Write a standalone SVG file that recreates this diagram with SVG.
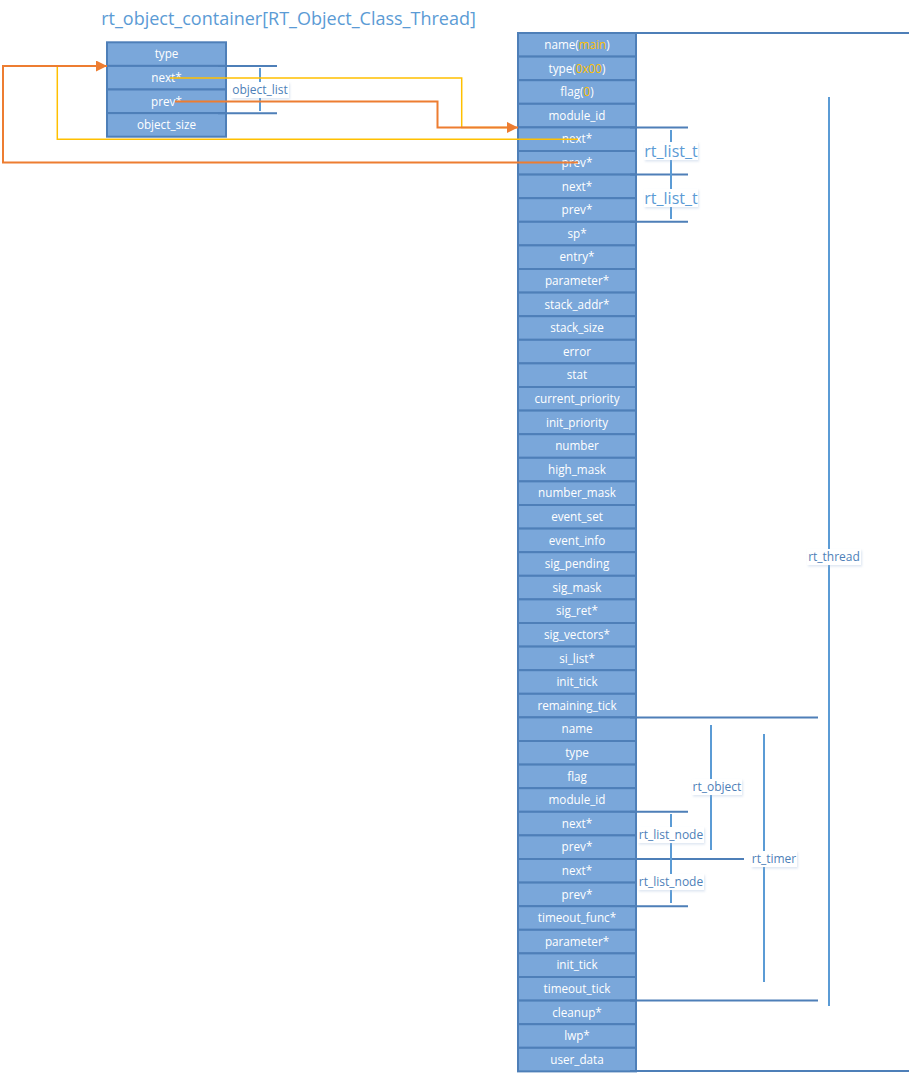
<svg xmlns="http://www.w3.org/2000/svg" width="917" height="1082" viewBox="0 0 917 1082">
<style>
.cell{fill:#7AA7DA;stroke:#4E7FB8;stroke-width:2}
.ct{font-family:"Open Sans","Liberation Sans",sans-serif;font-size:11.7px;fill:#FFFFFF;text-anchor:middle}
.hl{font-family:"Open Sans","Liberation Sans",sans-serif;fill:#FFC000}
.br{stroke:#4E7FB8;stroke-width:2;fill:none}
.vb{stroke:#5B9BD5;stroke-width:2;fill:none}
.lb{font-family:"Open Sans","Liberation Sans",sans-serif;font-size:12px;fill:#4E7FB8;text-anchor:middle}
.lbb{font-family:"Open Sans","Liberation Sans",sans-serif;font-size:16px;fill:#5B9BD5;text-anchor:middle}
.bg{fill:#FFFFFF;filter:url(#sh)}
.or{stroke:#ED7D31;stroke-width:2;fill:none}
.ye{stroke:#FFC000;stroke-width:1.5;fill:none}
</style>
<defs>
<marker id="ah" viewBox="0 0 11 11" refX="11" refY="5.5" markerWidth="11" markerHeight="11" markerUnits="userSpaceOnUse" orient="auto">
<path d="M0,0 L11,5.5 L0,11 Z" fill="#ED7D31"/>
</marker>
<filter id="sh" x="-10%" y="-20%" width="130%" height="160%">
<feDropShadow dx="1" dy="1.5" stdDeviation="1" flood-color="#9DB7D6" flood-opacity="0.35"/>
</filter>
</defs>
<rect width="917" height="1082" fill="#FFFFFF"/>

<text x="288.5" y="25" font-family="'Open Sans','Liberation Sans',sans-serif" font-size="18px" fill="#5B9BD5" text-anchor="middle">rt_object_container[RT_Object_Class_Thread]</text>

<g id="container">
<rect class="cell" x="107" y="42.3" width="119" height="23.6"/>
<rect class="cell" x="107" y="65.9" width="119" height="23.6"/>
<rect class="cell" x="107" y="89.5" width="119" height="23.6"/>
<rect class="cell" x="107" y="113.1" width="119" height="23.6"/>
<text class="ct" x="166.5" y="58.3">type</text>
<text class="ct" x="166.5" y="81.9">next*</text>
<text class="ct" x="166.5" y="105.5">prev*</text>
<text class="ct" x="166.5" y="129.1">object_size</text>
</g>

<g id="thread">
<rect class="cell" x="518" y="33" width="118" height="23.6"/>
<rect class="cell" x="518" y="56.6" width="118" height="23.6"/>
<rect class="cell" x="518" y="80.2" width="118" height="23.6"/>
<rect class="cell" x="518" y="103.8" width="118" height="23.6"/>
<rect class="cell" x="518" y="127.4" width="118" height="23.6"/>
<rect class="cell" x="518" y="151" width="118" height="23.6"/>
<rect class="cell" x="518" y="174.6" width="118" height="23.6"/>
<rect class="cell" x="518" y="198.2" width="118" height="23.6"/>
<rect class="cell" x="518" y="221.8" width="118" height="23.6"/>
<rect class="cell" x="518" y="245.4" width="118" height="23.6"/>
<rect class="cell" x="518" y="269" width="118" height="23.6"/>
<rect class="cell" x="518" y="292.6" width="118" height="23.6"/>
<rect class="cell" x="518" y="316.2" width="118" height="23.6"/>
<rect class="cell" x="518" y="339.8" width="118" height="23.6"/>
<rect class="cell" x="518" y="363.4" width="118" height="23.6"/>
<rect class="cell" x="518" y="387" width="118" height="23.6"/>
<rect class="cell" x="518" y="410.6" width="118" height="23.6"/>
<rect class="cell" x="518" y="434.2" width="118" height="23.6"/>
<rect class="cell" x="518" y="457.8" width="118" height="23.6"/>
<rect class="cell" x="518" y="481.4" width="118" height="23.6"/>
<rect class="cell" x="518" y="505" width="118" height="23.6"/>
<rect class="cell" x="518" y="528.6" width="118" height="23.6"/>
<rect class="cell" x="518" y="552.2" width="118" height="23.6"/>
<rect class="cell" x="518" y="575.8" width="118" height="23.6"/>
<rect class="cell" x="518" y="599.4" width="118" height="23.6"/>
<rect class="cell" x="518" y="623" width="118" height="23.6"/>
<rect class="cell" x="518" y="646.6" width="118" height="23.6"/>
<rect class="cell" x="518" y="670.2" width="118" height="23.6"/>
<rect class="cell" x="518" y="693.8" width="118" height="23.6"/>
<rect class="cell" x="518" y="717.4" width="118" height="23.6"/>
<rect class="cell" x="518" y="741" width="118" height="23.6"/>
<rect class="cell" x="518" y="764.6" width="118" height="23.6"/>
<rect class="cell" x="518" y="788.2" width="118" height="23.6"/>
<rect class="cell" x="518" y="811.8" width="118" height="23.6"/>
<rect class="cell" x="518" y="835.4" width="118" height="23.6"/>
<rect class="cell" x="518" y="859" width="118" height="23.6"/>
<rect class="cell" x="518" y="882.6" width="118" height="23.6"/>
<rect class="cell" x="518" y="906.2" width="118" height="23.6"/>
<rect class="cell" x="518" y="929.8" width="118" height="23.6"/>
<rect class="cell" x="518" y="953.4" width="118" height="23.6"/>
<rect class="cell" x="518" y="977" width="118" height="23.6"/>
<rect class="cell" x="518" y="1000.6" width="118" height="23.6"/>
<rect class="cell" x="518" y="1024.2" width="118" height="23.6"/>
<rect class="cell" x="518" y="1047.8" width="118" height="23.6"/>
<text class="ct" x="577" y="49">name(<tspan class="hl">main</tspan>)</text>
<text class="ct" x="577" y="72.6">type(<tspan class="hl">0x00</tspan>)</text>
<text class="ct" x="577" y="96.2">flag(<tspan class="hl">0</tspan>)</text>
<text class="ct" x="577" y="119.8">module_id</text>
<text class="ct" x="577" y="143.4">next*</text>
<text class="ct" x="577" y="167">prev*</text>
<text class="ct" x="577" y="190.6">next*</text>
<text class="ct" x="577" y="214.2">prev*</text>
<text class="ct" x="577" y="237.8">sp*</text>
<text class="ct" x="577" y="261.4">entry*</text>
<text class="ct" x="577" y="285">parameter*</text>
<text class="ct" x="577" y="308.6">stack_addr*</text>
<text class="ct" x="577" y="332.2">stack_size</text>
<text class="ct" x="577" y="355.8">error</text>
<text class="ct" x="577" y="379.4">stat</text>
<text class="ct" x="577" y="403">current_priority</text>
<text class="ct" x="577" y="426.6">init_priority</text>
<text class="ct" x="577" y="450.2">number</text>
<text class="ct" x="577" y="473.8">high_mask</text>
<text class="ct" x="577" y="497.4">number_mask</text>
<text class="ct" x="577" y="521">event_set</text>
<text class="ct" x="577" y="544.6">event_info</text>
<text class="ct" x="577" y="568.2">sig_pending</text>
<text class="ct" x="577" y="591.8">sig_mask</text>
<text class="ct" x="577" y="615.4">sig_ret*</text>
<text class="ct" x="577" y="639">sig_vectors*</text>
<text class="ct" x="577" y="662.6">si_list*</text>
<text class="ct" x="577" y="686.2">init_tick</text>
<text class="ct" x="577" y="709.8">remaining_tick</text>
<text class="ct" x="577" y="733.4">name</text>
<text class="ct" x="577" y="757">type</text>
<text class="ct" x="577" y="780.6">flag</text>
<text class="ct" x="577" y="804.2">module_id</text>
<text class="ct" x="577" y="827.8">next*</text>
<text class="ct" x="577" y="851.4">prev*</text>
<text class="ct" x="577" y="875">next*</text>
<text class="ct" x="577" y="898.6">prev*</text>
<text class="ct" x="577" y="922.2">timeout_func*</text>
<text class="ct" x="577" y="945.8">parameter*</text>
<text class="ct" x="577" y="969.4">init_tick</text>
<text class="ct" x="577" y="993">timeout_tick</text>
<text class="ct" x="577" y="1016.6">cleanup*</text>
<text class="ct" x="577" y="1040.2">lwp*</text>
<text class="ct" x="577" y="1063.8">user_data</text>
</g>

<g id="brackets">
<path class="br" d="M218,66 H277 M218,113.2 H277"/>
<path class="vb" d="M260,68 V111"/>
<path class="br" d="M630,33 H909 M630,1071 H909"/>
<path class="vb" d="M829,97 V1006"/>
<path class="br" d="M630,127.4 H688 M630,174.6 H688 M630,221.8 H688"/>
<path class="vb" d="M671,130 V219"/>
<path class="br" d="M630,717.4 H818 M630,1000.6 H818"/>
<path class="vb" d="M764,734 V982"/>
<path class="vb" d="M711,725 V850"/>
<path class="br" d="M630,859 H744"/>
<path class="br" d="M630,811.8 H688 M630,906.2 H688"/>
<path class="vb" d="M671,814 V903"/>
</g>

<g id="connectors">
<polyline class="ye" points="170,78 461.7,78 461.7,127.4 507,127.4"/>
<polyline class="ye" points="578,139.3 57.3,139.3 57.3,66 100,66"/>
<polyline class="or" points="175,101.5 437.5,101.5 437.5,127.4 518,127.4" marker-end="url(#ah)"/>
<polyline class="or" points="578,162.5 3,162.5 3,66 107,66" marker-end="url(#ah)"/>
</g>

<g id="label-object_list"><rect class="bg" x="231" y="82" width="58" height="16"/><text class="lb" x="260" y="94.3">object_list</text></g>
<g id="label-rt_list_t-1"><rect class="bg" x="644" y="142" width="54" height="18"/><text class="lbb" x="671" y="156.6">rt_list_t</text></g>
<g id="label-rt_list_t-2"><rect class="bg" x="644" y="189" width="54" height="18"/><text class="lbb" x="671" y="203.6">rt_list_t</text></g>
<g id="label-rt_thread"><rect class="bg" x="807" y="549" width="54" height="16"/><text class="lb" x="834" y="561.3">rt_thread</text></g>
<g id="label-rt_object"><rect class="bg" x="692" y="779" width="50" height="16"/><text class="lb" x="717" y="791.3">rt_object</text></g>
<g id="label-rt_timer"><rect class="bg" x="751" y="851" width="46" height="16"/><text class="lb" x="774" y="863.3">rt_timer</text></g>
<g id="label-rt_list_node-1"><rect class="bg" x="638" y="827" width="66" height="16"/><text class="lb" x="671" y="839.3">rt_list_node</text></g>
<g id="label-rt_list_node-2"><rect class="bg" x="638" y="874" width="66" height="16"/><text class="lb" x="671" y="886.3">rt_list_node</text></g>
</svg>
